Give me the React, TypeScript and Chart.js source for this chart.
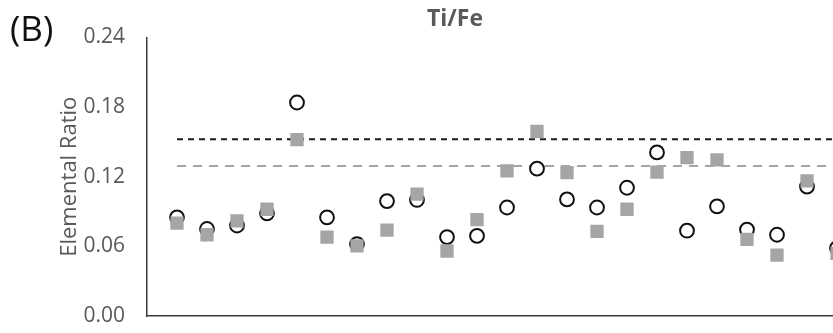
import { useEffect, useRef } from "react";
import { Chart, registerables } from "chart.js";

Chart.register(...registerables);

// Sample positions along the core
const sampleNo = [1, 2, 3, 4, 5, 6, 7, 8, 9, 10, 11, 12, 13, 14, 15, 16, 17, 18, 19, 20, 21, 22, 23];

// Ti/Fe ratio, open-circle series
const circleRatio = [
  0.085, 0.075, 0.078, 0.0885, 0.184, 0.085, 0.062, 0.099, 0.1, 0.068, 0.069, 0.0935,
  0.127, 0.1005, 0.0935, 0.1105, 0.141, 0.0735, 0.0945, 0.0745, 0.07, 0.1115, 0.0585,
];

// Ti/Fe ratio, grey-square series
const squareRatio = [
  0.08, 0.07, 0.082, 0.092, 0.152, 0.068, 0.0605, 0.074, 0.105, 0.056, 0.083, 0.125,
  0.159, 0.1235, 0.073, 0.092, 0.124, 0.1365, 0.1345, 0.066, 0.0525, 0.1165, 0.054,
];

// Reference levels (dashed lines)
const blackRefLevel = 0.1523;
const greyRefLevel = 0.1293;
const refSpan = [1, 24];

// Y axis
const yTicks = [0, 0.06, 0.12, 0.18, 0.24];

const TEXT_GREY = "#595959";
const FONT = '"Open Sans", sans-serif';

const panelText = {
  id: "panelText",
  afterDraw(chart: any) {
    const ctx = chart.ctx;
    ctx.save();
    ctx.textBaseline = "alphabetic";
    ctx.fillStyle = "#111111";
    ctx.font = `35px ${FONT}`;
    ctx.textAlign = "left";
    ctx.fillText("(B)", 10, 41);
    ctx.fillStyle = TEXT_GREY;
    ctx.font = `bold 23px ${FONT}`;
    ctx.textAlign = "center";
    ctx.fillText("Ti/Fe", 455, 26);
    ctx.restore();
  },
};

export default function App() {
  const canvasRef = useRef<HTMLCanvasElement | null>(null);

  useEffect(() => {
    const canvas = canvasRef.current;
    if (!canvas) return;

    const chart = new Chart(canvas, {
      type: "scatter",
      data: {
        datasets: [
          {
            label: "squares",
            data: sampleNo.map((x, i) => ({ x, y: squareRatio[i] })),
            pointStyle: "rect",
            pointRadius: 9.4,
            pointBackgroundColor: "#a5a5a5",
            pointBorderWidth: 0,
            pointBorderColor: "#a5a5a5",
            order: 0,
          },
          {
            label: "circles",
            data: sampleNo.map((x, i) => ({ x, y: circleRatio[i] })),
            pointStyle: "circle",
            pointRadius: 6.9,
            pointBackgroundColor: "#ffffff",
            pointBorderColor: "#111111",
            pointBorderWidth: 2,
            order: 1,
          },
          {
            label: "upper reference",
            data: refSpan.map((x) => ({ x, y: blackRefLevel })),
            showLine: true,
            borderColor: "#1a1a1a",
            borderWidth: 2,
            borderDash: [6, 5],
            pointRadius: 0,
            order: 2,
          },
          {
            label: "lower reference",
            data: refSpan.map((x) => ({ x, y: greyRefLevel })),
            showLine: true,
            borderColor: "#a5a5a5",
            borderWidth: 2,
            borderDash: [9, 7],
            pointRadius: 0,
            order: 3,
          },
        ],
      },
      options: {
        responsive: false,
        maintainAspectRatio: false,
        animation: false,
        layout: { padding: { left: 0, right: 43, top: 37.5, bottom: 17 } },
        plugins: {
          legend: { display: false },
          tooltip: { enabled: false },
          title: { display: false },
        },
        scales: {
          x: {
            type: "linear",
            min: 0,
            max: 24,
            grid: { display: false },
            ticks: { display: false },
            border: { display: true, color: "#3a3a3a", width: 1.5 },
            afterFit: (scale: any) => {
              scale.height = 0;
            },
          },
          y: {
            min: 0,
            max: 0.24,
            afterBuildTicks: (scale: any) => {
              scale.ticks = yTicks.map((value) => ({ value }));
            },
            grid: { display: false, drawTicks: false },
            border: { display: true, color: "#3a3a3a", width: 1.5 },
            ticks: {
              padding: 22,
              color: TEXT_GREY,
              font: { family: FONT, size: 21 },
              callback: (v: any) => Number(v).toFixed(2),
            },
            title: {
              display: true,
              text: "Elemental Ratio",
              color: TEXT_GREY,
              font: { family: FONT, size: 22 },
              padding: { top: 57, bottom: 0 },
            },
            afterFit: (scale: any) => {
              scale.width = 147;
              // labels overhang into the layout padding; keep the plot edges fixed
              scale.paddingTop = 0;
              scale.paddingBottom = 0;
            },
          },
        },
      },
      plugins: [panelText],
    });

    return () => chart.destroy();
  }, []);

  return (
    <div
      style={{
        position: "fixed",
        left: 0,
        top: 0,
        width: 833,
        height: 333,
        overflow: "hidden",
        background: "#ffffff",
      }}
    >
      <canvas ref={canvasRef} width={910} height={333} style={{ display: "block", width: 910, height: 333 }} />
    </div>
  );
}
